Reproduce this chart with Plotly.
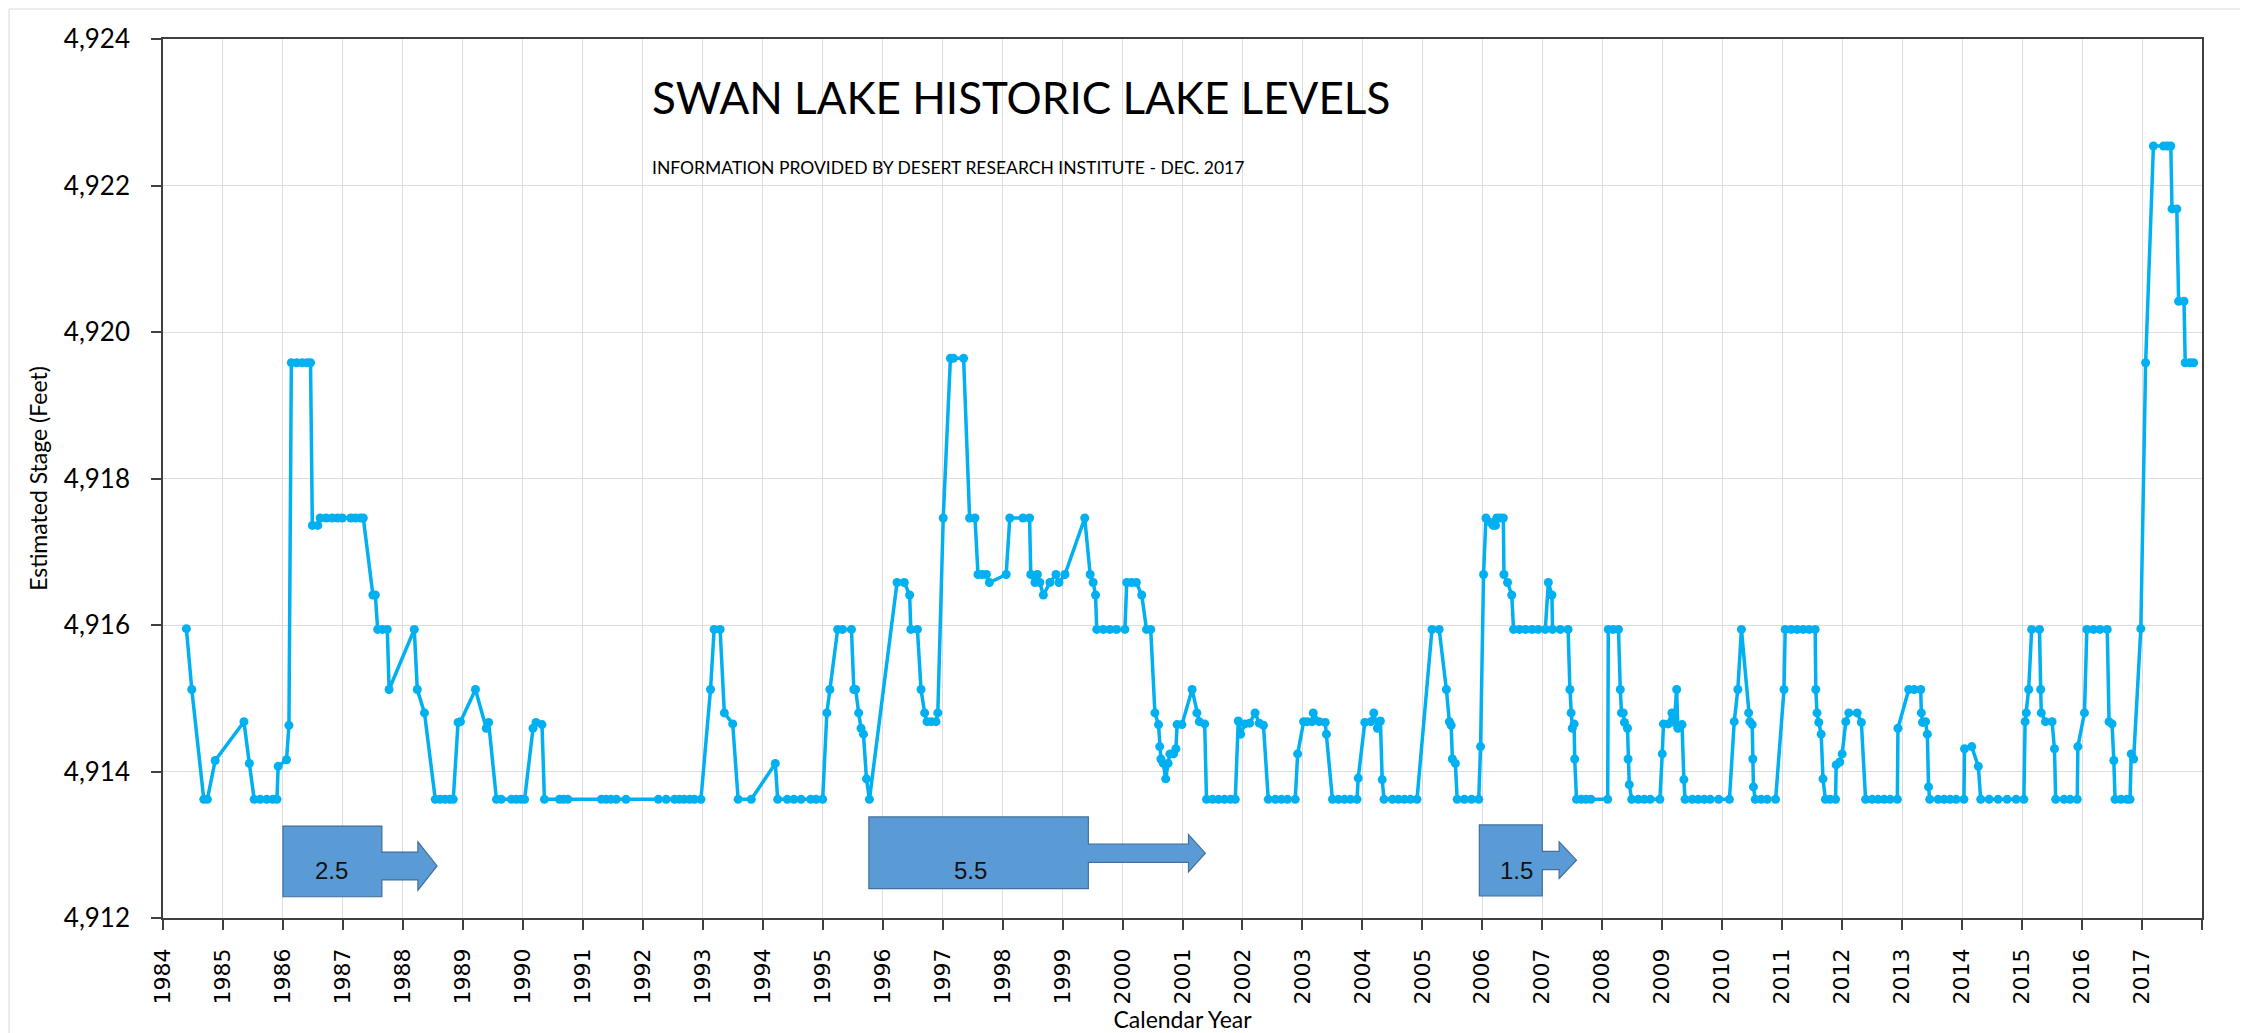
import plotly.graph_objects as go

# ---------------- data (decimal calendar year, estimated stage in feet) ----------------
years_1984_1995 = [
    1984.39, 1984.48, 1984.68, 1984.74, 1984.87, 1985.35, 1985.44, 1985.52, 1985.62, 1985.73,
    1985.83, 1985.90, 1985.92, 1986.06, 1986.10, 1986.14, 1986.23, 1986.32, 1986.40, 1986.46,
    1986.49, 1986.58, 1986.62, 1986.72, 1986.82, 1986.91, 1986.99, 1987.13, 1987.21, 1987.29,
    1987.34, 1987.50, 1987.54, 1987.58, 1987.66, 1987.74, 1987.77, 1988.19, 1988.24, 1988.36,
    1988.54, 1988.62, 1988.70, 1988.78, 1988.84, 1988.92, 1988.96, 1989.21, 1989.39, 1989.43,
    1989.56, 1989.64, 1989.81, 1989.89, 1989.97, 1990.03, 1990.17, 1990.22, 1990.32, 1990.36,
    1990.61, 1990.68, 1990.75, 1991.31, 1991.39, 1991.47, 1991.56, 1991.72, 1992.26, 1992.39,
    1992.53, 1992.61, 1992.69, 1992.78, 1992.86, 1992.97, 1993.13, 1993.19, 1993.29, 1993.36,
    1993.50, 1993.59, 1993.81, 1994.21, 1994.25, 1994.41, 1994.52, 1994.64, 1994.80, 1994.89,
    1995.00,
]
levels_1984_1995 = [
    4915.95, 4915.12, 4913.62, 4913.62, 4914.15, 4914.68, 4914.11, 4913.62, 4913.62, 4913.62,
    4913.62, 4913.62, 4914.07, 4914.16, 4914.63, 4919.58, 4919.58, 4919.58, 4919.58, 4919.58,
    4917.36, 4917.36, 4917.46, 4917.46, 4917.46, 4917.46, 4917.46, 4917.46, 4917.46, 4917.46,
    4917.46, 4916.41, 4916.41, 4915.94, 4915.94, 4915.94, 4915.12, 4915.94, 4915.12, 4914.80,
    4913.62, 4913.62, 4913.62, 4913.62, 4913.62, 4914.67, 4914.68, 4915.12, 4914.59, 4914.67,
    4913.62, 4913.62, 4913.62, 4913.62, 4913.62, 4913.62, 4914.59, 4914.67, 4914.64, 4913.62,
    4913.62, 4913.62, 4913.62, 4913.62, 4913.62, 4913.62, 4913.62, 4913.62, 4913.62, 4913.62,
    4913.62, 4913.62, 4913.62, 4913.62, 4913.62, 4913.62, 4915.12, 4915.94, 4915.94, 4914.80,
    4914.65, 4913.62, 4913.62, 4914.11, 4913.62, 4913.62, 4913.62, 4913.62, 4913.62, 4913.62,
    4913.62,
]

years_1995_2006 = [
    1995.07, 1995.12, 1995.25, 1995.33, 1995.48, 1995.52, 1995.55, 1995.60, 1995.64, 1995.68,
    1995.73, 1995.78, 1996.24, 1996.36, 1996.45, 1996.47, 1996.58, 1996.64, 1996.70, 1996.74,
    1996.81, 1996.89, 1996.92, 1997.01, 1997.13, 1997.18, 1997.35, 1997.45, 1997.54, 1997.59,
    1997.66, 1997.73, 1997.78, 1998.06, 1998.12, 1998.34, 1998.45, 1998.47, 1998.54, 1998.58,
    1998.62, 1998.68, 1998.79, 1998.89, 1998.94, 1999.04, 1999.37, 1999.46, 1999.51, 1999.55,
    1999.57, 1999.68, 1999.79, 1999.90, 2000.04, 2000.07, 2000.15, 2000.23, 2000.32, 2000.40,
    2000.47, 2000.54, 2000.60, 2000.62, 2000.64, 2000.68, 2000.72, 2000.76, 2000.79, 2000.85,
    2000.89, 2000.91, 2000.99, 2001.16, 2001.24, 2001.28, 2001.37, 2001.40, 2001.50, 2001.60,
    2001.70, 2001.80, 2001.88, 2001.93, 2001.97, 2002.04, 2002.12, 2002.21, 2002.28, 2002.35,
    2002.43, 2002.55, 2002.65, 2002.75, 2002.88, 2002.92, 2003.02, 2003.08, 2003.16, 2003.18,
    2003.28, 2003.38, 2003.40, 2003.50, 2003.60, 2003.70, 2003.80, 2003.91, 2003.93, 2004.04,
    2004.14, 2004.19, 2004.25, 2004.30, 2004.33, 2004.36, 2004.50, 2004.60, 2004.70, 2004.80,
    2004.91, 2005.16, 2005.28, 2005.40, 2005.45, 2005.48, 2005.50, 2005.55, 2005.58, 2005.70,
    2005.82, 2005.94, 2005.97,
]
levels_1995_2006 = [
    4914.80, 4915.12, 4915.94, 4915.94, 4915.94, 4915.12, 4915.12, 4914.80, 4914.59, 4914.51,
    4913.90, 4913.62, 4916.58, 4916.58, 4916.41, 4915.94, 4915.94, 4915.12, 4914.80, 4914.68,
    4914.68, 4914.68, 4914.80, 4917.46, 4919.64, 4919.64, 4919.64, 4917.46, 4917.46, 4916.69,
    4916.69, 4916.69, 4916.58, 4916.69, 4917.46, 4917.46, 4917.46, 4916.69, 4916.58, 4916.69,
    4916.58, 4916.41, 4916.58, 4916.69, 4916.58, 4916.69, 4917.46, 4916.69, 4916.58, 4916.41,
    4915.94, 4915.94, 4915.94, 4915.94, 4915.94, 4916.58, 4916.58, 4916.58, 4916.41, 4915.94,
    4915.94, 4914.80, 4914.64, 4914.34, 4914.17, 4914.11, 4913.90, 4914.11, 4914.24, 4914.24,
    4914.31, 4914.64, 4914.64, 4915.12, 4914.80, 4914.68, 4914.65, 4913.62, 4913.62, 4913.62,
    4913.62, 4913.62, 4913.62, 4914.69, 4914.51, 4914.65, 4914.66, 4914.80, 4914.66, 4914.63,
    4913.62, 4913.62, 4913.62, 4913.62, 4913.62, 4914.24, 4914.68, 4914.68, 4914.68, 4914.80,
    4914.68, 4914.67, 4914.51, 4913.62, 4913.62, 4913.62, 4913.62, 4913.62, 4913.91, 4914.67,
    4914.68, 4914.80, 4914.59, 4914.69, 4913.89, 4913.62, 4913.62, 4913.62, 4913.62, 4913.62,
    4913.62, 4915.94, 4915.94, 4915.12, 4914.68, 4914.63, 4914.17, 4914.11, 4913.62, 4913.62,
    4913.62, 4913.62, 4914.34,
]

years_2006_2017 = [
    2006.02, 2006.06, 2006.14, 2006.18, 2006.22, 2006.24, 2006.30, 2006.35, 2006.36, 2006.42,
    2006.49, 2006.52, 2006.62, 2006.72, 2006.83, 2006.93, 2007.05, 2007.10, 2007.16, 2007.17,
    2007.30, 2007.43, 2007.46, 2007.48, 2007.50, 2007.53, 2007.54, 2007.57, 2007.65, 2007.73,
    2007.81, 2008.09, 2008.10, 2008.18, 2008.27, 2008.30, 2008.32, 2008.35, 2008.37, 2008.42,
    2008.43, 2008.45, 2008.49, 2008.60, 2008.70, 2008.80, 2008.96, 2009.00, 2009.02, 2009.10,
    2009.16, 2009.20, 2009.24, 2009.26, 2009.33, 2009.36, 2009.38, 2009.50, 2009.60, 2009.70,
    2009.80, 2009.94, 2010.12, 2010.20, 2010.26, 2010.32, 2010.44, 2010.46, 2010.50, 2010.51,
    2010.52, 2010.55, 2010.65, 2010.75, 2010.89, 2011.03, 2011.05, 2011.15, 2011.25, 2011.35,
    2011.45, 2011.55, 2011.56, 2011.58, 2011.61, 2011.65, 2011.68, 2011.72, 2011.80, 2011.89,
    2011.90, 2011.96, 2012.00, 2012.06, 2012.11, 2012.25, 2012.32, 2012.39, 2012.50, 2012.60,
    2012.70, 2012.80, 2012.92, 2012.93, 2013.11, 2013.20, 2013.31, 2013.32, 2013.34, 2013.39,
    2013.42, 2013.44, 2013.46, 2013.60, 2013.70, 2013.80, 2013.90, 2014.03, 2014.04, 2014.16,
    2014.27, 2014.31, 2014.45, 2014.60, 2014.75, 2014.90, 2015.03, 2015.05, 2015.07, 2015.11,
    2015.16, 2015.29, 2015.31, 2015.32, 2015.39, 2015.50, 2015.54, 2015.56, 2015.70, 2015.80,
    2015.92, 2015.93, 2016.04, 2016.08, 2016.19, 2016.30, 2016.42, 2016.45, 2016.50, 2016.53,
    2016.55, 2016.65, 2016.75, 2016.80, 2016.82, 2016.86, 2016.98, 2017.06, 2017.19, 2017.36,
    2017.42, 2017.48, 2017.50, 2017.58, 2017.61, 2017.70, 2017.72, 2017.80, 2017.86,
]
levels_2006_2017 = [
    4916.69, 4917.46, 4917.40, 4917.36, 4917.36, 4917.46, 4917.46, 4917.46, 4916.69, 4916.58,
    4916.41, 4915.94, 4915.94, 4915.94, 4915.94, 4915.94, 4915.94, 4916.58, 4916.41, 4915.94,
    4915.94, 4915.94, 4915.12, 4914.80, 4914.59, 4914.65, 4914.17, 4913.62, 4913.62, 4913.62,
    4913.62, 4913.62, 4915.94, 4915.94, 4915.94, 4915.12, 4914.80, 4914.80, 4914.67, 4914.59,
    4914.17, 4913.82, 4913.62, 4913.62, 4913.62, 4913.62, 4913.62, 4914.24, 4914.65, 4914.65,
    4914.80, 4914.67, 4915.12, 4914.59, 4914.64, 4913.89, 4913.62, 4913.62, 4913.62, 4913.62,
    4913.62, 4913.62, 4913.62, 4914.68, 4915.12, 4915.94, 4914.80, 4914.68, 4914.64, 4914.17,
    4913.79, 4913.62, 4913.62, 4913.62, 4913.62, 4915.12, 4915.94, 4915.94, 4915.94, 4915.94,
    4915.94, 4915.94, 4915.12, 4914.80, 4914.67, 4914.51, 4913.90, 4913.62, 4913.62, 4913.62,
    4914.09, 4914.13, 4914.24, 4914.68, 4914.80, 4914.80, 4914.67, 4913.62, 4913.62, 4913.62,
    4913.62, 4913.62, 4913.62, 4914.59, 4915.12, 4915.12, 4915.12, 4914.80, 4914.67, 4914.68,
    4914.51, 4913.79, 4913.62, 4913.62, 4913.62, 4913.62, 4913.62, 4913.62, 4914.31, 4914.34,
    4914.07, 4913.62, 4913.62, 4913.62, 4913.62, 4913.62, 4913.62, 4914.68, 4914.80, 4915.12,
    4915.94, 4915.94, 4915.12, 4914.80, 4914.68, 4914.68, 4914.31, 4913.62, 4913.62, 4913.62,
    4913.62, 4914.34, 4914.80, 4915.94, 4915.94, 4915.94, 4915.94, 4914.68, 4914.65, 4914.15,
    4913.62, 4913.62, 4913.62, 4913.62, 4914.24, 4914.17, 4915.95, 4919.58, 4922.54, 4922.54,
    4922.54, 4922.54, 4921.68, 4921.68, 4920.42, 4920.42, 4919.58, 4919.58, 4919.58,
]

year_ticks = list(range(1984, 2019))
year_tick_labels = [str(y) for y in range(1984, 2018)] + [""]
stage_ticks = [4912, 4914, 4916, 4918, 4920, 4922, 4924]

arrow_labels = ["2.5", "5.5", "1.5"]

years = years_1984_1995 + years_1995_2006 + years_2006_2017
levels = levels_1984_1995 + levels_1995_2006 + levels_2006_2017

# ---------------- figure ----------------
W, H = 2248, 1033
ML, MR, MT, MB = 155, 54, 31, 123

fig = go.Figure()
fig.add_trace(go.Scatter(
    x=years, y=levels, mode="lines+markers",
    line=dict(color="#00B0F0", width=3.5),
    marker=dict(color="#00B0F0", size=9),
    showlegend=False,
))

# block arrows (decoration): box x0,x1 ; shaft end ; tip ; box y0,y1 ; shaft y0,y1 ; head y0,y1 ; label x
arrow_geom = [
    (1986.00, 1987.65, 1988.25, 1988.57, 4912.29, 4913.255, 4912.52, 4912.90, 4912.38, 4913.04, 1986.81),
    (1995.77, 1999.43, 2001.10, 2001.38, 4912.40, 4913.38, 4912.76, 4913.01, 4912.63, 4913.14, 1997.47),
    (2005.95, 2007.00, 2007.28, 2007.57, 4912.30, 4913.27, 4912.66, 4912.91, 4912.54, 4913.04, 2006.57),
]
shapes = []
annotations = []
for (x0, x1, xs, xt, yb, yt, sb, st, hb, ht, lx), lab in zip(arrow_geom, arrow_labels):
    ym = (hb + ht) / 2
    path = (f"M {x0},{yb} L {x1},{yb} L {x1},{sb} L {xs},{sb} L {xs},{hb} L {xt},{ym} "
            f"L {xs},{ht} L {xs},{st} L {x1},{st} L {x1},{yt} L {x0},{yt} Z")
    shapes.append(dict(type="path", path=path, xref="x", yref="y",
                       fillcolor="#5B9BD5", line=dict(color="#41719C", width=1.2), layer="above"))
    annotations.append(dict(x=lx, y=4912.65, xref="x", yref="y", text=lab, showarrow=False,
                            font=dict(family="Liberation Sans Narrow, Liberation Sans, Arial", size=24, color="#111111")))

pw = W - ML - MR
ph = H - MT - MB
# outer chart border
shapes.append(dict(type="rect", xref="paper", yref="paper",
                   x0=(1 - ML) / pw, x1=(W - 5 - ML) / pw,
                   y0=(ph + MT - (H - 1)) / ph, y1=(ph + MT - 1) / ph,
                   line=dict(color="#D9D9D9", width=1), fillcolor="rgba(0,0,0,0)", layer="below"))

annotations.append(dict(xref="paper", yref="paper", x=(642 - ML) / pw, y=(ph + MT - 89) / ph,
                        xanchor="left", yanchor="middle", showarrow=False,
                        text="SWAN LAKE HISTORIC LAKE LEVELS",
                        font=dict(family="Lato", size=44, color="#000000")))
annotations.append(dict(xref="paper", yref="paper", x=(642 - ML) / pw, y=(ph + MT - 159) / ph,
                        xanchor="left", yanchor="middle", showarrow=False,
                        text="INFORMATION PROVIDED BY DESERT RESEARCH INSTITUTE - DEC. 2017",
                        font=dict(family="Lato", size=17.5, color="#000000")))

fig.update_layout(
    width=W, height=H,
    margin=dict(l=ML, r=MR, t=MT, b=MB, autoexpand=False),
    paper_bgcolor="white", plot_bgcolor="white",
    shapes=shapes, annotations=annotations,
    showlegend=False,
)
fig.update_xaxes(
    range=[1984, 2018], tickmode="array", tickvals=year_ticks, ticktext=year_tick_labels,
    tickangle=-90, tickfont=dict(family="DejaVu Sans", size=22, color="#000000"),
    ticks="outside", ticklen=10, tickcolor="#404040", tickwidth=1.5,
    showgrid=True, gridcolor="#DDDDDD", gridwidth=1.2,
    showline=True, linecolor="#404040", linewidth=1.5, mirror=True,
    zeroline=False, automargin=False, ticklabelstandoff=10,
    title=dict(text="Calendar Year", font=dict(family="Lato", size=23, color="#000000"), standoff=6),
)
fig.update_yaxes(
    range=[4912, 4924], tickmode="array", tickvals=stage_ticks, tickformat=",d",
    tickfont=dict(family="Lato", size=26, color="#000000"),
    ticks="outside", ticklen=10, tickcolor="#404040", tickwidth=1.5,
    showgrid=True, gridcolor="#DDDDDD", gridwidth=1.2,
    showline=True, linecolor="#404040", linewidth=1.5, mirror=True,
    zeroline=False, automargin=False, ticklabelstandoff=16,
    title=dict(text="Estimated Stage (Feet)", font=dict(family="Lato", size=23, color="#000000"), standoff=10),
)

fig.write_html("out.html")
